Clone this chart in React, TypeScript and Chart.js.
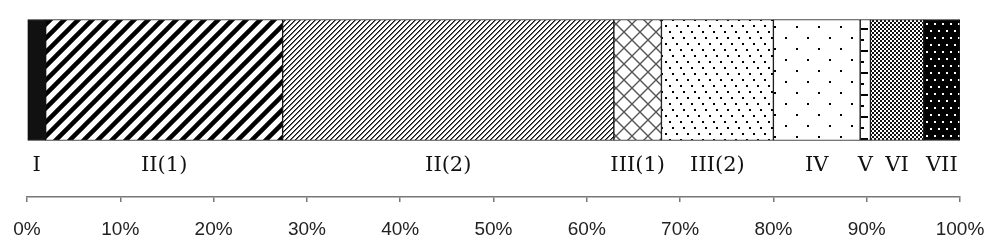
import React, { useEffect, useRef } from "react";
import { Chart, registerables } from "chart.js";

Chart.register(...registerables);

// ---- data ----
const segments = ["I", "II(1)", "II(2)", "III(1)", "III(2)", "IV", "V", "VI", "VII"];
const shares = [2.0, 25.4, 35.5, 5.1, 12.0, 9.3, 1.1, 5.7, 3.9];
const tickSuffix = "%";
const axisMin = 0;
const axisMax = 100;
const axisStep = 10;

function makeTile(w: number, h: number, draw: (c: CanvasRenderingContext2D) => void): CanvasPattern | string {
  const cv = document.createElement("canvas");
  cv.width = w;
  cv.height = h;
  const c = cv.getContext("2d");
  if (!c) return "#888";
  draw(c);
  const ctx = document.createElement("canvas").getContext("2d");
  const p = ctx ? ctx.createPattern(cv, "repeat") : null;
  return p || "#888";
}

function buildPatterns(): (CanvasPattern | string)[] {
  const white = (c: CanvasRenderingContext2D, w: number, h: number) => {
    c.fillStyle = "#fff";
    c.fillRect(0, 0, w, h);
  };
  const p1 = "#111";
  const p2 = makeTile(14, 14, (c) => {
    white(c, 14, 14);
    c.strokeStyle = "#000";
    c.lineWidth = 4.5;
    c.beginPath();
    c.moveTo(-7, 7); c.lineTo(7, -7);
    c.moveTo(0, 14); c.lineTo(14, 0);
    c.moveTo(7, 21); c.lineTo(21, 7);
    c.stroke();
  });
  const p3 = makeTile(5, 5, (c) => {
    white(c, 5, 5);
    c.fillStyle = "#111";
    for (let i = 0; i < 5; i++) c.fillRect(i, 4 - i, 1, 1);
    c.fillStyle = "#666";
    for (let i = 0; i < 5; i++) c.fillRect(i, (5 - i) % 5, 1, 1);
  });
  const p4 = makeTile(16, 16, (c) => {
    white(c, 16, 16);
    c.strokeStyle = "#555";
    c.lineWidth = 1.4;
    c.beginPath();
    c.moveTo(0, 0); c.lineTo(16, 16);
    c.moveTo(0, 16); c.lineTo(16, 0);
    c.stroke();
  });
  const p5 = makeTile(11, 18, (c) => {
    white(c, 11, 18);
    c.fillStyle = "#000";
    c.fillRect(1, 1, 2, 2);
    c.fillRect(5, 7, 2, 2);
    c.fillRect(9, 13, 2, 2);
  });
  const p6 = makeTile(22, 22, (c) => {
    white(c, 22, 22);
    c.fillStyle = "#000";
    c.fillRect(4, 4, 2, 2);
    c.fillRect(15, 15, 2, 2);
  });
  const p7 = makeTile(11, 22, (c) => {
    white(c, 11, 22);
    c.fillStyle = "#000";
    c.fillRect(3, 6, 7, 2);
    c.fillRect(3, 17, 3, 2);
  });
  const p8 = makeTile(4, 4, (c) => {
    white(c, 4, 4);
    c.fillStyle = "#111";
    c.fillRect(0, 0, 2, 2);
    c.fillRect(2, 2, 2, 2);
  });
  const p9 = makeTile(8, 14, (c) => {
    c.fillStyle = "#000";
    c.fillRect(0, 0, 8, 14);
    c.fillStyle = "#fff";
    c.fillRect(2, 2, 2, 2);
    c.fillRect(6, 9, 2, 2);
  });
  return [p1, p2, p3, p4, p5, p6, p7, p8, p9];
}

const segmentLabelPlugin = {
  id: "segmentLabels",
  afterDatasetsDraw(chart: any) {
    const ctx = chart.ctx;
    ctx.save();
    ctx.font = '21px "DejaVu Serif"';
    ctx.fillStyle = "#111";
    ctx.textAlign = "center";
    ctx.textBaseline = "middle";
    chart.data.datasets.forEach((ds: any, i: number) => {
      const el = chart.getDatasetMeta(i).data[0];
      if (!el) return;
      const p = el.getProps(["x", "base", "y", "height"], true);
      ctx.fillText(ds.label, (p.x + p.base) / 2, p.y + p.height / 2 + 25);
    });
    ctx.restore();
  },
};

export default function App() {
  const ref = useRef<HTMLCanvasElement>(null);
  useEffect(() => {
    if (!ref.current) return;
    const patterns = buildPatterns();
    const chart = new Chart(ref.current, {
      type: "bar",
      data: {
        datasets: segments.map((name, i) => ({
          label: name,
          data: [{ x: shares[i], y: 0 }],
          backgroundColor: patterns[i] as any,
          borderColor: "#111",
          borderWidth: 1,
          borderSkipped: false,
          barThickness: 121,
        })),
      },
      options: {
        indexAxis: "y",
        responsive: false,
        animation: false,
        layout: { padding: { left: 27, right: 32, top: 15, bottom: 0 } },
        plugins: { legend: { display: false }, tooltip: { enabled: false } },
        scales: {
          x: {
            type: "linear",
            stacked: true,
            min: axisMin,
            max: axisMax,
            position: "bottom",
            afterFit: (scale: any) => {
              scale.height = 51;
              scale.paddingLeft = 0;
              scale.paddingRight = 0;
            },
            grid: {
              display: true,
              drawOnChartArea: false,
              drawTicks: true,
              tickLength: 5,
              color: "#777",
              lineWidth: 1.5,
            },
            border: { display: true, color: "#777", width: 1.5 },
            ticks: {
              stepSize: axisStep,
              padding: 16,
              color: "#222",
              font: { family: '"Liberation Sans", Arial, sans-serif', size: 19 },
              callback: (v: any) => `${v}${tickSuffix}`,
            },
          },
          y: {
            type: "linear",
            stacked: true,
            display: false,
            min: -2,
            max: 1,
          },
        },
      },
      plugins: [segmentLabelPlugin],
    } as any);
    return () => chart.destroy();
  }, []);
  return (
    <div style={{ position: "fixed", left: 0, top: 0, width: 992, height: 248, background: "#fff" }}>
      <canvas ref={ref} width={992} height={248} />
    </div>
  );
}
